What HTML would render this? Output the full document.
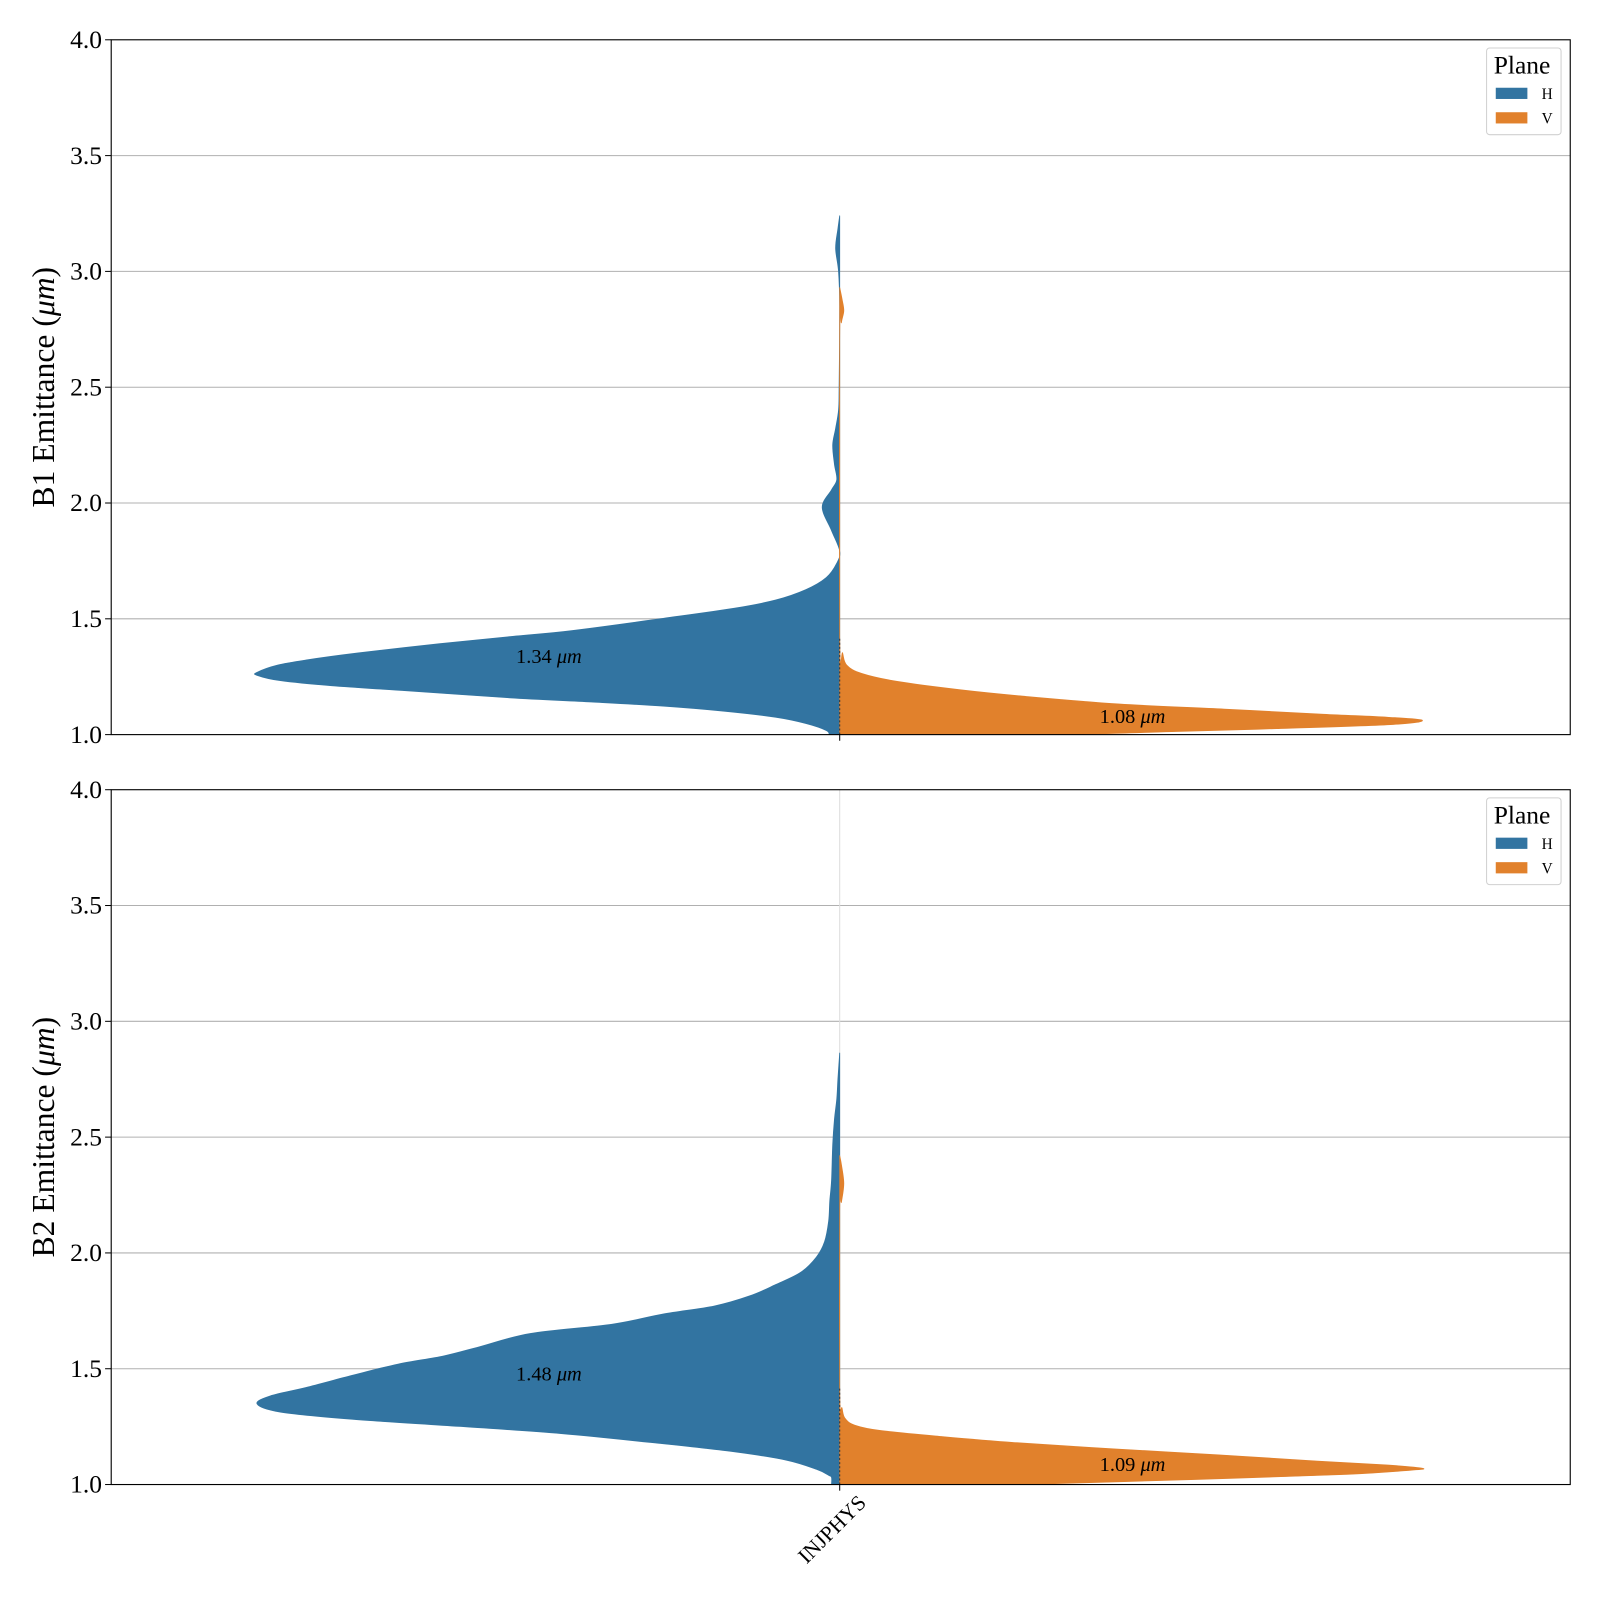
<!DOCTYPE html>
<html><head><meta charset="utf-8"><style>
html,body{margin:0;padding:0;background:#fff}
svg{display:block;font-family:"Liberation Serif",serif}
</style></head><body>
<svg id="chart" width="1600" height="1600" viewBox="0 0 1600 1600" xmlns="http://www.w3.org/2000/svg"><g id="root" transform="scale(1.0203)"></g></svg>
<script>
// ---- data ----
const yTicks = [1.0,1.5,2.0,2.5,3.0,3.5,4.0];
const yTickLabels = ["1.0","1.5","2.0","2.5","3.0","3.5","4.0"];
const category = "INJPHYS";
const planes = ["H","V"];
const colors = ["#3274a1","#e1812c"];
const b1H_e = [1.00,1.018,1.048,1.075,1.101,1.123,1.141,1.159,1.189,1.211,1.233,1.256,1.269,1.300,1.322,1.352,1.392,1.423,1.449,1.502,1.546,1.581,1.626,1.678,1.740,1.793,1.881,1.982,2.057,2.101,2.167,2.251,2.322,2.401,2.498,2.85,3.00,3.10,3.185,3.24];
const b1H_d = [0.018,0.023,0.058,0.110,0.198,0.303,0.426,0.566,0.741,0.872,0.960,1.0,1.0,0.965,0.916,0.828,0.688,0.566,0.460,0.303,0.180,0.110,0.058,0.023,0.005,0.0,0.014,0.030,0.014,0.005,0.009,0.012,0.007,0.002,0.001,0.0,0.002,0.007,0.003,0.0];
const b1V_e = [1.00,1.004,1.013,1.026,1.044,1.062,1.075,1.088,1.110,1.132,1.167,1.194,1.229,1.264,1.300,1.352,1.419,2.70,2.78,2.83,2.88,2.93];
const b1V_d = [0.31,0.45,0.57,0.75,0.95,1.0,0.94,0.83,0.66,0.48,0.31,0.205,0.10,0.038,0.012,0.005,0.0,0.0,0.003,0.007,0.004,0.0];
const b2H_e = [1.00,1.031,1.040,1.066,1.106,1.141,1.176,1.220,1.251,1.282,1.313,1.348,1.383,1.419,1.471,1.520,1.555,1.595,1.652,1.692,1.736,1.771,1.815,1.863,1.916,1.982,2.048,2.137,2.225,2.313,2.467,2.577,2.665,2.753,2.863];
const b2H_d = [0.014,0.014,0.019,0.040,0.093,0.180,0.303,0.478,0.653,0.837,0.960,1.0,0.977,0.916,0.837,0.758,0.680,0.618,0.531,0.391,0.303,0.215,0.154,0.110,0.067,0.040,0.026,0.019,0.017,0.014,0.012,0.009,0.005,0.003,0.0];
const b2V_e = [1.00,1.022,1.044,1.062,1.070,1.084,1.101,1.128,1.154,1.181,1.207,1.233,1.256,1.286,1.330,1.396,2.18,2.22,2.30,2.38,2.42];
const b2V_d = [0.31,0.61,0.87,0.98,1.0,0.94,0.82,0.65,0.47,0.30,0.175,0.07,0.026,0.009,0.004,0.0,0.0,0.003,0.007,0.003,0.0];
const medians = [["1.34 ","1.08 "],["1.48 ","1.09 "]];
const medianPos = [[1.34,1.08],[1.48,1.09]];

// ---- layout ----
const NS = "http://www.w3.org/2000/svg";
const svg = document.getElementById("root");
const X0=109, X1=1539, CX=823, HALF=571;
const panels = [{top:39,bottom:720,label:"B1",H:[b1H_e,b1H_d],V:[b1V_e,b1V_d],vgrid:false},
                {top:774,bottom:1455,label:"B2",H:[b2H_e,b2H_d],V:[b2V_e,b2V_d],vgrid:true}];
function mk(tag, attrs, parent){const e=document.createElementNS(NS,tag);for(const k in attrs)e.setAttribute(k,attrs[k]);(parent||svg).appendChild(e);return e;}
function smooth(pts){
  let d=`M${pts[0][0]},${pts[0][1]}`;
  for(let i=0;i<pts.length-1;i++){
    const p0=pts[Math.max(0,i-1)],p1=pts[i],p2=pts[i+1],p3=pts[Math.min(pts.length-1,i+2)];
    const c1=[p1[0]+(p2[0]-p0[0])/6,p1[1]+(p2[1]-p0[1])/6];
    const c2=[p2[0]-(p3[0]-p1[0])/6,p2[1]-(p3[1]-p1[1])/6];
    d+=` C${c1[0]},${c1[1]} ${c2[0]},${c2[1]} ${p2[0]},${p2[1]}`;
  }
  return d;
}

panels.forEach((p,pi)=>{
  const yS = v => p.bottom - (v-1.0)/(4.0-1.0)*(p.bottom-p.top);
  const g = mk("g",{});
  
  
  yTicks.forEach((t,i)=>{
    if(i>0 && i<yTicks.length-1){
      const l = mk("line",{x1:X0,x2:X1,y1:yS(t),y2:yS(t),stroke:"#b0b0b0","stroke-width":1},g);
      
      
    }
  });
  if(p.vgrid){
    const vl = mk("line",{x1:CX,x2:CX,y1:p.top,y2:p.bottom,stroke:"#dcdcdc","stroke-width":1},g);
    
    
  }
  [[p.H,-1,0],[p.V,1,1]].forEach(([arr,dir,ci])=>{
    const [es,ds]=arr;
    const pts=[];
    for(let i=0;i<es.length;i++) pts.push([CX+dir*ds[i]*HALF, yS(es[i])]);
    let d = `M${CX},${yS(es[0])} L` + smooth(pts).slice(1) + ` L${CX},${yS(es[es.length-1])} Z`;
    const path = mk("path",{d:d,fill:colors[ci],stroke:colors[ci],"stroke-width":0.8,"stroke-linejoin":"round"},g);
    
    
  });
  const st = mk("line",{x1:CX,x2:CX,y1:yS(1.0),y2:yS(1.42),stroke:"#333","stroke-width":1,"stroke-dasharray":"2,2"},g);
  
  
  [[538,0],[1110,1]].forEach(([x,ci])=>{
    const t = mk("text",{x:x,y:yS(medianPos[pi][ci])+7,"text-anchor":"middle","font-size":20,fill:"#000"},g);
    
    
    t.textContent = medians[pi][ci];
    const ts = mk("tspan",{"font-style":"italic"},t); ts.textContent="μm";
  });
  const fr = mk("rect",{x:X0,y:p.top,width:X1-X0,height:p.bottom-p.top,fill:"none",stroke:"#000","stroke-width":1.1},g);
  
  
  yTicks.forEach((t,i)=>{
    mk("line",{x1:X0-6,x2:X0,y1:yS(t),y2:yS(t),stroke:"#000","stroke-width":1},g);
    const tl = mk("text",{x:X0-9,y:yS(t)+8,"text-anchor":"end","font-size":25,fill:"#000"},g);
    
    
    tl.textContent = yTickLabels[i];
  });
  mk("line",{x1:CX,x2:CX,y1:p.bottom,y2:p.bottom+6,stroke:"#000","stroke-width":1},g);
  const yl = mk("text",{x:0,y:0,transform:`translate(53,${(p.top+p.bottom)/2}) rotate(-90)`,"text-anchor":"middle","font-size":31,fill:"#000"},g);
  
  
  yl.textContent = p.label+" Emittance (";
  const yi = mk("tspan",{"font-style":"italic"},yl); yi.textContent="μm";
  const yc = mk("tspan",{},yl); yc.textContent=")";
  const lg = mk("g",{transform:`translate(1457,${p.top+8})`},g);
  
  
  mk("rect",{x:0,y:0,width:73,height:85,rx:3,fill:"#fff",stroke:"#d0d0d0","stroke-width":1},lg);
  const lt = mk("text",{x:7,y:25,"font-size":25,fill:"#000"},lg);
  
  
  lt.textContent="Plane";
  planes.forEach((pl,i)=>{
    const r = mk("rect",{x:9,y:39+i*24,width:31,height:11,fill:colors[i]},lg);
    
    
    const tx = mk("text",{x:54,y:50+i*24,"font-size":15,fill:"#000"},lg);
    
    
    tx.textContent = pl;
  });
});
const xl = mk("text",{x:0,y:0,transform:"translate(850,1474) rotate(-45)","text-anchor":"end","font-size":21,fill:"#000"});


xl.textContent = category;
</script>
</body></html>
